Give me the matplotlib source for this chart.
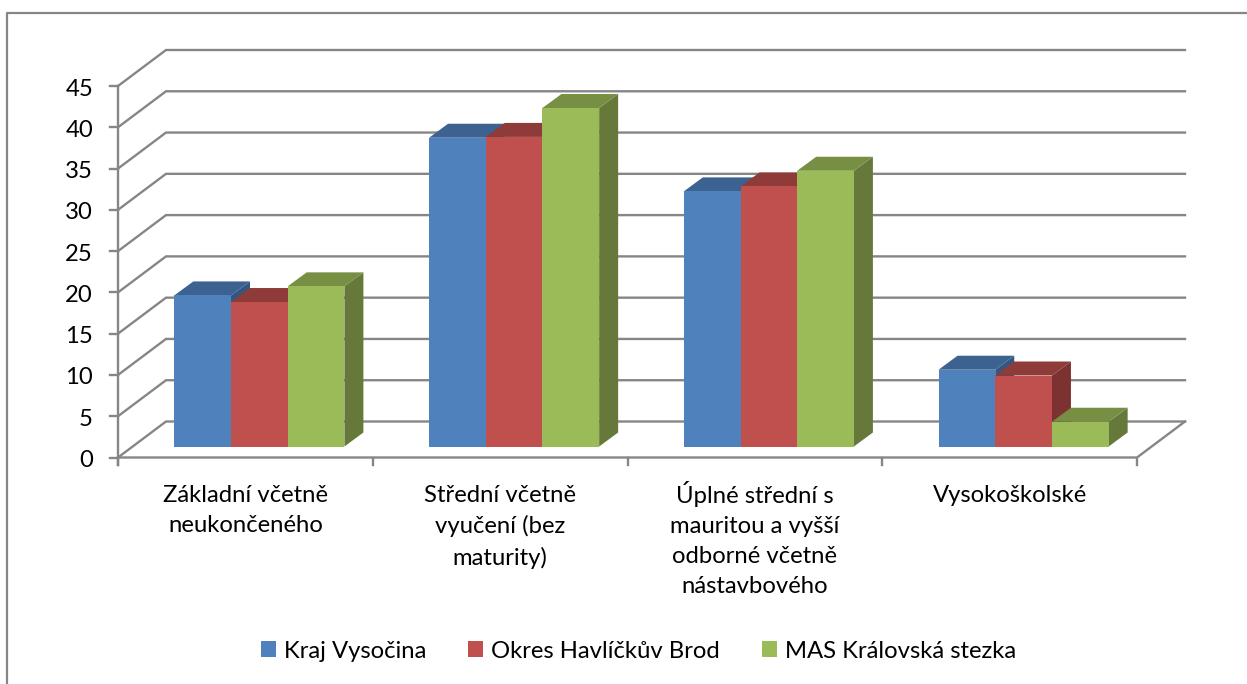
import matplotlib
matplotlib.use("Agg")
import matplotlib.pyplot as plt
from matplotlib.patches import Polygon, Patch

categories = ["Základní včetně\nneukončeného", "Střední včetně\nvyučení (bez\nmaturity)",
              "Úplné střední s\nmauritou a vyšší\nodborné včetně\nnástavbového", "Vysokoškolské"]
series_names = ["Kraj Vysočina", "Okres Havlíčkův Brod", "MAS Královská stezka"]
kraj = [18.3, 37.4, 30.9, 9.3]
okres = [17.5, 37.5, 31.5, 8.6]
mas = [19.4, 41.0, 33.4, 3.0]
yticks = [0, 5, 10, 15, 20, 25, 30, 35, 40, 45]

W, H = 1247, 684
X0, X4, Y0, Y45 = 118.0, 1137.0, 457.5, 86.0
px = (X4 - X0) / 4          # pixels per category
py = (Y0 - Y45) / 45        # pixels per value unit

fig = plt.figure(figsize=(W / 100, H / 100), dpi=100, facecolor="white")
ax = fig.add_axes([0, 0, 1, 1])
ax.set_xlim(-X0 / px, (W - X0) / px)
ax.set_ylim((Y0 - H) / py, Y0 / py)
ax.axis("off")

FONT = "Lato"
FS = 17.2
GRID = "#868686"
LW = 1.7
wall_dx, wall_dy = 48 / px, 36 / py
bar_dx, bar_dy = 19 / px, 14 / py
base = 11 / py
start = 56.3 / px
bw = 56.7 / px

# frame of the chart area
xl, yl = ax.get_xlim(), ax.get_ylim()
ax.plot([xl[0] + 7 / px, xl[0] + 7 / px, xl[1]], [yl[0], (Y0 - 13) / py, (Y0 - 13) / py],
        color=GRID, lw=1.6, zorder=1, clip_on=False)

# gridlines on wall and floor
n = len(categories)
for v in yticks:
    ax.plot([0, wall_dx, n + wall_dx], [v, v + wall_dy, v + wall_dy], color=GRID, lw=LW, zorder=1,
            solid_joinstyle="miter")
    ax.plot([-8 / px, 0], [v, v], color=GRID, lw=LW, zorder=1)
    ax.text(-25 / px, v - 3 / py, str(v), ha="right", va="center", fontsize=FS, family=FONT, color="black")
ax.plot([0, 0], [-7 / py, yticks[-1]], color=GRID, lw=LW, zorder=1)
ax.plot([0, n, n + wall_dx], [0, 0, wall_dy], color=GRID, lw=LW, zorder=1)
for i in range(n + 1):
    ax.plot([i, i], [-7 / py, 0], color=GRID, lw=LW, zorder=1)

# bars
styles = [("#4F81BD", "#3C6291", "#345680"),
          ("#C0504D", "#8F3B39", "#7C3231"),
          ("#9BBB59", "#778F43", "#66793A")]
z = 2
for i in range(n):
    for j, vals in enumerate([kraj, okres, mas]):
        x = i + start + j * bw
        top = base + vals[i]
        front, topc, side = styles[j]
        ax.add_patch(Polygon([(x + bw, base), (x + bw + bar_dx, base + bar_dy),
                              (x + bw + bar_dx, top + bar_dy), (x + bw, top)],
                             fc=side, ec="none", zorder=z))
        ax.add_patch(Polygon([(x, top), (x + bar_dx, top + bar_dy),
                              (x + bw + bar_dx, top + bar_dy), (x + bw, top)],
                             fc=topc, ec="none", zorder=z + 1))
        ax.add_patch(Polygon([(x, base), (x + bw, base), (x + bw, top), (x, top)],
                             fc=front, ec="none", zorder=z + 2))
        z += 3

# category labels (the accented first line makes the third block taller, hence its own top)
label_tops = [27, 27, 23, 27]
for i, c in enumerate(categories):
    ax.text(i + 0.5, -label_tops[i] / py, c, ha="center", va="top", fontsize=FS, family=FONT,
            color="black", linespacing=1.54)

handles = [Patch(fc=s[0], ec="none") for s in styles]
fig.legend(handles, series_names, loc="center", bbox_to_anchor=(638.5 / W, 1 - 651 / H), ncol=3,
           frameon=False, prop={"family": FONT, "size": FS}, handlelength=0.63, handleheight=0.63,
           handletextpad=0.33, columnspacing=1.75, borderpad=0, borderaxespad=0)
fig.savefig("out.png", dpi=100)
